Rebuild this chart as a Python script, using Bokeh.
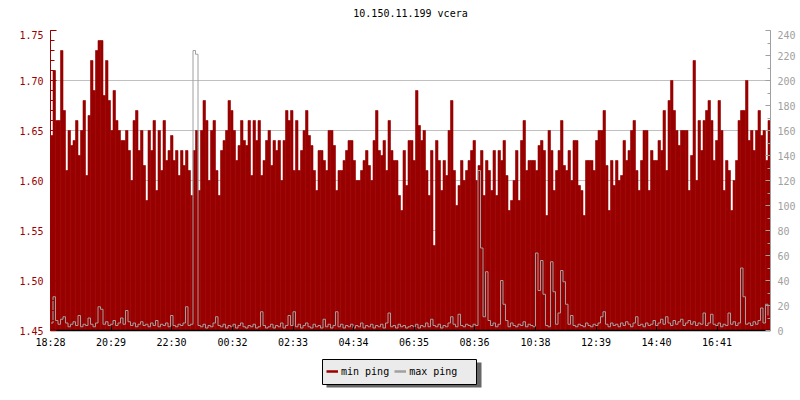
from bokeh.plotting import figure
from bokeh.layouts import column
from bokeh.models import (Range1d, LinearAxis, FixedTicker, Legend, LegendItem,
                          BoxAnnotation, NumeralTickFormatter, Label)
from bokeh.embed import file_html
from bokeh.resources import INLINE

title_text = "10.150.11.199 vcera"
start_time = "18:28"
step_minutes = 5
tick_labels = ["18:28", "20:29", "22:30", "00:32", "02:33", "04:34",
               "06:35", "08:36", "10:38", "12:39", "14:40", "16:41"]
left_ticks = [1.45, 1.50, 1.55, 1.60, 1.65, 1.70, 1.75]
right_ticks = [0, 20, 40, 60, 80, 100, 120, 140, 160, 180, 200, 220, 240]

# min ping (ms) - left axis
min_ping = [
    1.645, 1.71, 1.66, 1.66, 1.73, 1.67, 1.61, 1.65, 1.635, 1.64, 1.66, 1.625,
    1.65, 1.68, 1.605, 1.665, 1.72, 1.69, 1.73, 1.74, 1.74, 1.685, 1.72, 1.68,
    1.65, 1.69, 1.66, 1.65, 1.64, 1.64, 1.65, 1.63, 1.60, 1.66, 1.67, 1.63,
    1.65, 1.615, 1.58, 1.65, 1.63, 1.66, 1.59, 1.65, 1.61, 1.66, 1.62, 1.63,
    1.645, 1.62, 1.63, 1.605, 1.63, 1.615, 1.63, 1.61, 1.585, 1.63, 1.65, 1.59,
    1.65, 1.68, 1.66, 1.60, 1.65, 1.66, 1.61, 1.585, 1.63, 1.64, 1.65, 1.68,
    1.67, 1.65, 1.62, 1.635, 1.66, 1.64, 1.635, 1.66, 1.605, 1.66, 1.64, 1.66,
    1.605, 1.62, 1.64, 1.65, 1.615, 1.64, 1.63, 1.64, 1.60, 1.64, 1.67, 1.66,
    1.67, 1.61, 1.66, 1.61, 1.63, 1.65, 1.67, 1.645, 1.635, 1.61, 1.59, 1.63,
    1.63, 1.62, 1.61, 1.65, 1.65, 1.635, 1.59, 1.61, 1.61, 1.62, 1.63, 1.64,
    1.64, 1.62, 1.60, 1.60, 1.61, 1.62, 1.63, 1.615, 1.60, 1.64, 1.67, 1.63,
    1.625, 1.64, 1.61, 1.66, 1.63, 1.62, 1.62, 1.585, 1.57, 1.63, 1.595, 1.64,
    1.64, 1.62, 1.69, 1.655, 1.64, 1.65, 1.61, 1.585, 1.63, 1.535, 1.64, 1.62,
    1.59, 1.62, 1.605, 1.65, 1.68, 1.61, 1.575, 1.595, 1.62, 1.60, 1.61, 1.62,
    1.63, 1.64, 1.60, 1.615, 1.63, 1.585, 1.62, 1.61, 1.59, 1.63, 1.585, 1.63,
    1.62, 1.64, 1.605, 1.57, 1.58, 1.60, 1.63, 1.58, 1.64, 1.66, 1.61, 1.62,
    1.62, 1.62, 1.61, 1.635, 1.64, 1.63, 1.565, 1.65, 1.63, 1.59, 1.61, 1.63,
    1.66, 1.615, 1.61, 1.63, 1.60, 1.64, 1.64, 1.595, 1.59, 1.565, 1.62, 1.62,
    1.62, 1.61, 1.64, 1.65, 1.65, 1.67, 1.615, 1.57, 1.62, 1.595, 1.62, 1.60,
    1.605, 1.64, 1.62, 1.63, 1.65, 1.66, 1.61, 1.59, 1.62, 1.65, 1.65, 1.59,
    1.63, 1.62, 1.62, 1.64, 1.63, 1.67, 1.61, 1.68, 1.70, 1.67, 1.65, 1.635,
    1.65, 1.65, 1.65, 1.59, 1.625, 1.72, 1.60, 1.66, 1.63, 1.66, 1.67, 1.68,
    1.66, 1.62, 1.64, 1.68, 1.65, 1.59, 1.62, 1.61, 1.57, 1.60, 1.62, 1.66,
    1.67, 1.67, 1.70, 1.64, 1.65, 1.63, 1.65, 1.67, 1.645, 1.65, 1.62, 1.66,
]

# max ping (ms) - right axis
max_ping = [
    6, 27, 8, 5, 9, 11, 6, 3, 5, 7, 4, 12, 3, 5, 4, 10, 5, 3, 6, 19, 17, 5, 7, 4,
    5, 8, 4, 6, 10, 5, 16, 7, 4, 6, 3, 5, 7, 4, 5, 3, 6, 4, 8, 3, 5, 4, 6, 3,
    12, 4, 3, 5, 4, 6, 19, 4, 5, 224, 221, 4, 3, 5, 2, 4, 3, 6, 11, 4, 3, 5, 2, 4,
    3, 5, 2, 4, 6, 3, 2, 4, 3, 5, 2, 3, 15, 4, 2, 3, 5, 2, 4, 3, 6, 2, 4, 12,
    4, 15, 3, 5, 2, 4, 6, 3, 2, 5, 3, 4, 2, 9, 3, 5, 2, 4, 15, 3, 5, 2, 4, 3,
    5, 2, 4, 3, 6, 2, 4, 3, 5, 2, 4, 3, 5, 2, 6, 14, 3, 4, 2, 5, 3, 4, 2, 3,
    4, 3, 5, 2, 4, 3, 6, 3, 9, 4, 3, 5, 2, 4, 3, 6, 11, 5, 3, 13, 4, 3, 5, 4,
    3, 5, 4, 128, 66, 11, 47, 8, 4, 6, 3, 5, 40, 21, 8, 3, 6, 4, 3, 5, 4, 7, 3, 5,
    4, 3, 62, 32, 56, 29, 4, 3, 55, 31, 5, 14, 48, 39, 21, 5, 12, 4, 3, 5, 4, 3, 6, 4,
    3, 5, 4, 6, 11, 15, 5, 3, 6, 4, 5, 3, 6, 4, 7, 5, 3, 6, 11, 4, 5, 3, 6, 4,
    5, 8, 4, 6, 9, 5, 11, 6, 4, 8, 5, 7, 9, 4, 6, 8, 5, 7, 4, 6, 5, 14, 4, 6,
    13, 5, 4, 6, 3, 5, 4, 14, 5, 7, 4, 6, 50, 27, 5, 6, 4, 7, 5, 8, 18, 6, 21, 12,
]

series_names = ["min ping", "max ping"]

FONT = "DejaVu Sans Mono"
RED = "#990000"
GREY = "#a0a0a0"


def to_minutes(s):
    h, m = s.split(":")
    return int(h) * 60 + int(m)


t0 = to_minutes(start_time)
span = 24 * 60
tick_pos = [(to_minutes(s) - t0) % span for s in tick_labels]
t = [i * step_minutes for i in range(len(min_ping))]
t_mid = [x + step_minutes / 2 for x in t]


def strip(h):
    f = figure(width=800, height=h, x_range=Range1d(0, 1), y_range=Range1d(0, 1),
               output_backend="svg", toolbar_location=None,
               x_axis_location=None, y_axis_location=None,
               min_border=0, min_border_left=0, min_border_right=0,
               min_border_top=0, min_border_bottom=0)
    f.grid.visible = False
    f.outline_line_color = None
    f.background_fill_color = "white"
    f.border_fill_color = "white"
    return f


# title strip (frame aligned with main frame by the column layout)
top = strip(30)
top.add_layout(Label(x=360, y=17, x_units="screen", y_units="screen",
                     text=title_text, text_align="center", text_baseline="middle",
                     text_font=FONT, text_font_size="10px", text_color="black"))

p = figure(frame_width=720, frame_height=300,
           x_range=Range1d(0, span), y_range=Range1d(left_ticks[0], left_ticks[-1]),
           output_backend="svg", toolbar_location=None,
           min_border_left=50, min_border_top=0, min_border_right=0,
           min_border_bottom=20)
p.extra_y_ranges = {"right": Range1d(right_ticks[0], right_ticks[-1])}

p.outline_line_color = None
p.background_fill_color = "white"
p.border_fill_color = "white"

r_min = p.vbar(x=t_mid, width=step_minutes, bottom=left_ticks[0], top=min_ping,
               fill_color=RED, line_color=RED, line_width=0.6)
r_max = p.step(x=t, y=max_ping, mode="after", y_range_name="right",
               line_color=GREY, line_width=1)

# grid
p.xgrid.visible = False
p.ygrid.ticker = FixedTicker(ticks=left_ticks[1:])
p.ygrid.grid_line_color = "#c0c0c0"
p.ygrid.grid_line_width = 1

# bottom axis
xa = p.xaxis[0]
xa.ticker = FixedTicker(ticks=tick_pos)
xa.major_label_overrides = {pos: lab for pos, lab in zip(tick_pos, tick_labels)}
xa.axis_line_color = "black"
xa.axis_line_width = 1.5
xa.major_tick_line_color = "black"
xa.major_tick_in = 4
xa.major_tick_out = 0
xa.minor_tick_line_color = None
xa.major_label_text_font = FONT
xa.major_label_text_font_size = "10px"
xa.major_label_text_color = "black"
xa.major_label_standoff = 6

# left axis
minor_left = [round(left_ticks[0] + 0.01 * k, 2) for k in range(31)]
ya = p.yaxis[0]
ya.ticker = FixedTicker(ticks=left_ticks, minor_ticks=minor_left)
ya.formatter = NumeralTickFormatter(format="0.00")
ya.axis_line_color = RED
ya.major_tick_line_color = RED
ya.minor_tick_line_color = RED
ya.major_tick_in = 6
ya.major_tick_out = 0
ya.minor_tick_in = 4
ya.minor_tick_out = 0
ya.major_label_text_font = FONT
ya.major_label_text_font_size = "10px"
ya.major_label_text_color = RED
ya.major_label_standoff = 7

# right axis
minor_right = list(range(right_ticks[0], right_ticks[-1] + 1, 10))
ra = LinearAxis(y_range_name="right",
                ticker=FixedTicker(ticks=right_ticks, minor_ticks=minor_right))
ra.axis_line_color = GREY
ra.major_tick_line_color = GREY
ra.minor_tick_line_color = GREY
ra.major_tick_in = 5
ra.major_tick_out = 0
ra.minor_tick_in = 3
ra.minor_tick_out = 0
ra.major_label_text_font = FONT
ra.major_label_text_font_size = "10px"
ra.major_label_text_color = GREY
ra.major_label_standoff = 7
p.add_layout(ra, "right")

# legend strip below the chart (box with drop shadow); screen x is relative
# to the aligned frame, which starts 50px from the left edge
q = strip(50)
nan = float("nan")
g_min = q.line(x=[nan], y=[nan], line_color=RED, line_width=2.5)
g_max = q.line(x=[nan], y=[nan], line_color=GREY, line_width=2.5)

shadow = BoxAnnotation(left=276, right=431, bottom=13, top=38,
                       left_units="screen", right_units="screen",
                       top_units="screen", bottom_units="screen",
                       fill_color="#666666", fill_alpha=1, line_color=None)
q.add_layout(shadow)
box = BoxAnnotation(left=272, right=426, bottom=16, top=41,
                    left_units="screen", right_units="screen",
                    top_units="screen", bottom_units="screen",
                    fill_color="#ebebeb", fill_alpha=1,
                    line_color="black", line_width=1, line_alpha=1)
q.add_layout(box)

legend = Legend(items=[LegendItem(label=series_names[0], renderers=[g_min]),
                       LegendItem(label=series_names[1], renderers=[g_max])],
                orientation="horizontal", location=(276, 22))
legend.background_fill_alpha = 0
legend.border_line_color = None
legend.label_text_font = FONT
legend.label_text_font_size = "10px"
legend.label_text_color = "black"
legend.glyph_width = 12
legend.glyph_height = 10
legend.label_height = 14
legend.label_standoff = 3
legend.spacing = 5
legend.padding = 5
legend.margin = 0
q.add_layout(legend)

layout = column(top, p, q, spacing=0)
open("out.html", "w").write(file_html(layout, INLINE))
